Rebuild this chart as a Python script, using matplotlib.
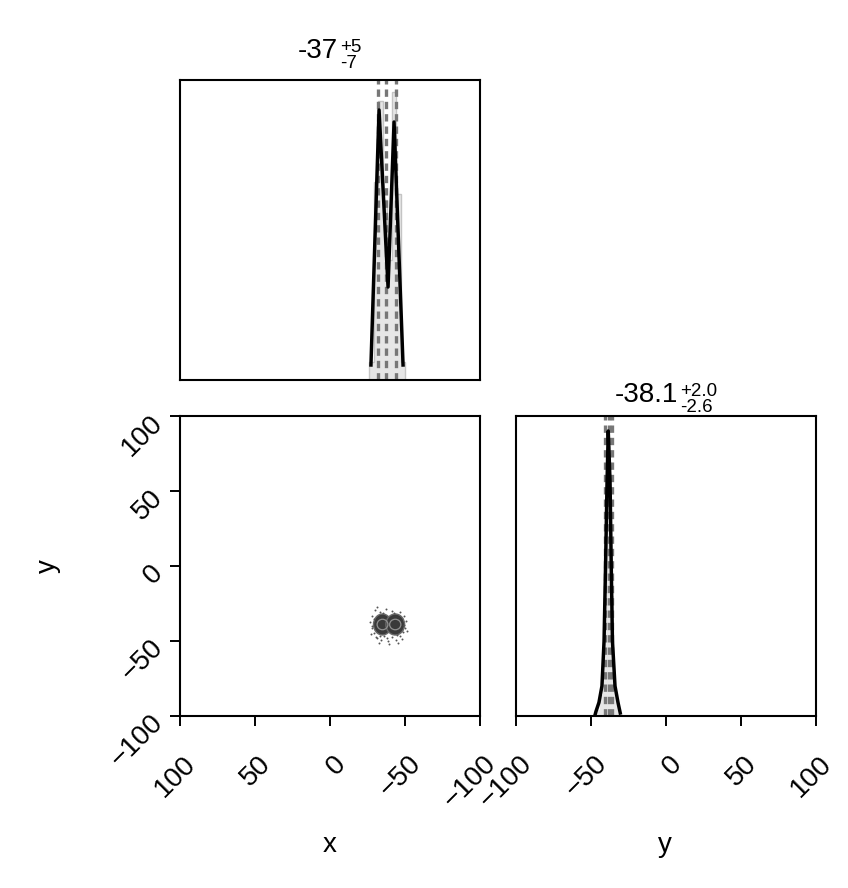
import matplotlib
matplotlib.use("Agg")
import matplotlib.pyplot as plt
import matplotlib.transforms as mtransforms
from matplotlib.patches import Ellipse

plt.rcParams['font.family'] = ['Liberation Sans', 'DejaVu Sans']

# --- data ---
# marginal of x (axis reversed)
x_edges = [-26, -29, -32, -35, -38, -41, -44, -47, -50]
x_hist = [0.06, 0.66, 0.93, 0.60, 0.40, 0.96, 0.62, 0.06]
x_line_v = [-27.3, -32.7, -38.7, -42.7, -48.7]
x_line_h = [0.05, 0.90, 0.31, 0.86, 0.05]
x_quant = [-44, -37, -32]

# marginal of y
y_edges = [-46, -44, -42, -41, -40, -39, -38, -37, -36, -35, -34, -32, -30]
y_hist = [0.02, 0.07, 0.2, 0.45, 0.75, 0.93, 0.9, 0.7, 0.4, 0.18, 0.06, 0.02]
y_line_v = [-47.5, -46.7, -44.7, -42.7, -41.3, -40.3, -39.3, -38.5,
            -37.3, -36.5, -35.7, -34.0, -32.0, -30.5]
y_line_h = [0.0, 0.015, 0.045, 0.10, 0.25, 0.50, 0.78, 0.95,
            0.78, 0.50, 0.25, 0.10, 0.045, 0.01]
y_quant = [-40.7, -38.1, -36.1]

# joint x-y: two dense lobes + scattered outliers
lobe_x = [-35.0, -43.5]
lobe_y = [-39.0, -39.0]
lobe_w = [12.0, 12.5]
lobe_h = [14.0, 14.0]
pts_x = [-30, -31.3, -28, -33.3, -46.7, -49.3, -50.7, -28, -29.3, -31.3,
         -34, -36, -38.7, -41.3, -44, -46.7, -48.7, -26.7, -37.3, -41.3,
         -27.5, -50, -32.5, -45.5, -39.5, -29, -49.5, -35.5, -42.5, -30.5,
         -47.8, -38, -44.8, -33, -27.8, -51.2]
pts_y = [-29.3, -27.3, -33.3, -30.7, -30.7, -33.3, -36.7, -41.3, -44.7, -48,
         -49.3, -46.7, -50, -47.3, -49.3, -46.7, -44, -37.3, -28.7, -30,
         -45.5, -41, -51, -51.5, -52, -35.5, -39.5, -31.2, -31.5, -47.5,
         -48.5, -47.8, -46.2, -46.5, -39.8, -43.2]

ticks = [-100, -50, 0, 50, 100]

W, H = 848, 888
fig = plt.figure(figsize=(W / 100, H / 100), dpi=100)

def rect(x0, y0, x1, y1):
    return [x0 / W, 1 - y1 / H, (x1 - x0) / W, (y1 - y0) / H]

ax_x = fig.add_axes(rect(180, 80, 480, 380))
ax_xy = fig.add_axes(rect(180, 416, 480, 716))
ax_y = fig.add_axes(rect(516, 416, 816, 716))

FS = 20

for ax in (ax_x, ax_xy, ax_y):
    for s in ax.spines.values():
        s.set_linewidth(1.5)
    ax.tick_params(direction='out', length=7.2, width=1.4, labelsize=FS)

quant_style = dict(color='#777777', lw=2.4, ls=(0, (2.2, 1.5)))

# top-left marginal
ax_x.stairs(x_hist, x_edges, fill=True, color='#e6e6e6')
ax_x.stairs(x_hist, x_edges, color='#c4c4c4', lw=1.0)
for q in x_quant:
    ax_x.axvline(q, **quant_style)
ax_x.plot(x_line_v, x_line_h, color='black', lw=2.5)
ax_x.set_xlim(100, -100)
ax_x.set_ylim(0, 1)
ax_x.set_xticks([])
ax_x.set_yticks([])

# bottom-right marginal
ax_y.stairs(y_hist, y_edges, fill=True, color='#e6e6e6')
for q in y_quant:
    ax_y.axvline(q, **quant_style)
ax_y.plot(y_line_v, y_line_h, color='black', lw=2.5)
ax_y.set_xlim(-100, 100)
ax_y.set_ylim(0, 1)
ax_y.set_yticks([])

# joint
for cx, cy, w, h in zip(lobe_x, lobe_y, lobe_w, lobe_h):
    ax_xy.add_patch(Ellipse((cx, cy), w, h, fc='#3a3a3a', ec='#6a6a6a', lw=1.0))
for cx, cy, w, h in zip(lobe_x, lobe_y, lobe_w, lobe_h):
    ax_xy.add_patch(Ellipse((cx, cy), w * 0.6, h * 0.5, fill=False,
                            ec='#909090', lw=0.9))
ax_xy.scatter(pts_x, pts_y, s=2.0, color='#555555', lw=0)
ax_xy.set_xlim(100, -100)
ax_xy.set_ylim(-100, 100)

for ax in (ax_xy, ax_y):
    ax.set_xticks(ticks)
    ax.set_xticklabels([f"{t}".replace('-', '\u2212') for t in ticks])
    ax.tick_params(axis='x', pad=24.5)
    off = mtransforms.ScaledTranslation(0.12, 0, fig.dpi_scale_trans)
    for lab in ax.get_xticklabels():
        lab.set_rotation(45)
        lab.set_ha('right')
        lab.set_va('center')
        lab.set_rotation_mode('anchor')
        lab.set_transform(lab.get_transform() + off)

ax_xy.set_yticks(ticks)
ax_xy.set_yticklabels([f"{t}".replace('-', '\u2212') for t in ticks])
ax_xy.tick_params(axis='y', pad=7.9)
offy = mtransforms.ScaledTranslation(0, -0.03, fig.dpi_scale_trans)
for lab in ax_xy.get_yticklabels():
    lab.set_rotation(45)
    lab.set_ha('right')
    lab.set_va('center')
    lab.set_rotation_mode('anchor')
    lab.set_transform(lab.get_transform() + offy)

# axis labels
fig.text(330 / W, 1 - 845 / H, 'x', fontsize=FS, ha='center', va='center')
fig.text(665 / W, 1 - 845 / H, 'y', fontsize=FS, ha='center', va='center')
fig.text(48 / W, 1 - 566 / H, 'y', fontsize=FS, ha='center', va='center',
         rotation=90)

# titles with stacked errors
def title(x, ybase, main, up, lo):
    fig.text(x / W, 1 - ybase / H, main, fontsize=FS, ha='right', va='baseline')
    fig.text((x + 2) / W, 1 - (ybase - 6) / H, up, fontsize=13.5, ha='left', va='baseline')
    fig.text((x + 2) / W, 1 - (ybase + 10) / H, lo, fontsize=13.5, ha='left', va='baseline')

title(338, 58, '-37', '+5', '-7')
title(678, 402, '-38.1', '+2.0', '-2.6')

fig.savefig('out.png', dpi=100)
